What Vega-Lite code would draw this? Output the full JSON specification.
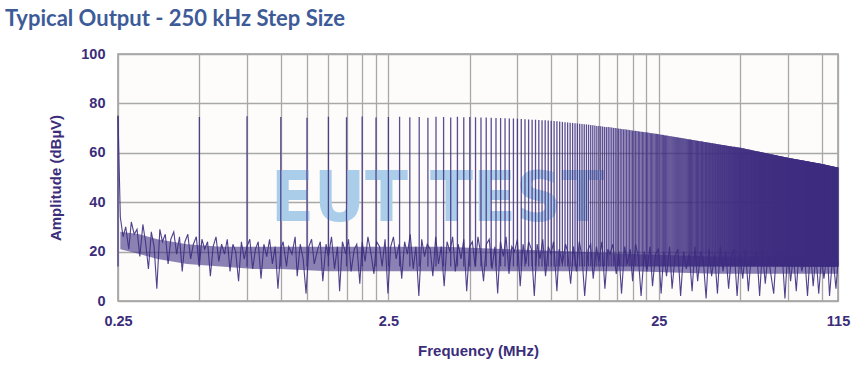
{
  "$schema": "https://vega.github.io/schema/vega-lite/v6.json",
  "width": 720,
  "height": 247,
  "autosize": {"type": "none"},
  "padding": {"left": 118, "top": 54, "right": 28, "bottom": 75},
  "background": "#ffffff",
  "title": {
    "text": "Typical Output - 250 kHz Step Size",
    "anchor": "start",
    "frame": "group",
    "dx": -113,
    "dy": 30,
    "offset": 28,
    "baseline": "alphabetic",
    "font": "Liberation Sans Narrow, Lato, sans-serif",
    "fontSize": 22,
    "fontWeight": "bold",
    "color": "#3d5b98"
  },
  "config": {
    "view": {"stroke": "#9b9b9b", "strokeWidth": 1.5, "fill": "#fdfcfa"},
    "axis": {
      "labelFont": "Liberation Sans, Arial, sans-serif",
      "titleFont": "Liberation Sans, Arial, sans-serif",
      "labelFontWeight": "bold",
      "titleFontWeight": "bold",
      "labelColor": "#3b2d7a",
      "titleColor": "#3b2d7a",
      "labelFontSize": 14.5,
      "titleFontSize": 15,
      "ticks": false,
      "domain": false,
      "grid": true,
      "gridColor": "#a8a8a8",
      "gridWidth": 1.3,
      "gridOpacity": 1
    }
  },
  "datasets": {
    "spk": [
      {"f":0.25,"a":75},{"f":0.5,"a":74.5},{"f":0.75,"a":74.8},{"f":1,"a":74.5},{"f":1.25,"a":74.2},{"f":1.5,"a":74.6},{"f":1.75,"a":74.4},{"f":2,"a":74.7},{"f":2.25,"a":74.3},{"f":2.5,"a":74.5},
      {"f":2.75,"a":74.6},{"f":3,"a":74.4},{"f":3.25,"a":74.5},{"f":3.5,"a":74.2},{"f":3.75,"a":74.6},{"f":4,"a":74.5},{"f":4.25,"a":74.3},{"f":4.5,"a":74.6},{"f":4.75,"a":74.4},{"f":5,"a":74.5},
      {"f":5.25,"a":74.4},{"f":5.5,"a":74.3},{"f":5.75,"a":74.3},{"f":6,"a":74.2},{"f":6.25,"a":74.1},{"f":6.5,"a":74.1},{"f":6.75,"a":74.0},{"f":7,"a":73.9},{"f":7.25,"a":73.9},{"f":7.5,"a":73.8},
      {"f":7.75,"a":73.7},{"f":8,"a":73.6},{"f":8.25,"a":73.5},{"f":8.5,"a":73.4},{"f":8.75,"a":73.4},{"f":9,"a":73.3},{"f":9.25,"a":73.2},{"f":9.5,"a":73.2},{"f":9.75,"a":73.1},{"f":10,"a":73.0},
      {"f":10.25,"a":72.9},{"f":10.5,"a":72.8},{"f":10.75,"a":72.7},{"f":11,"a":72.5},{"f":11.25,"a":72.4},{"f":11.5,"a":72.3},{"f":11.75,"a":72.2},{"f":12,"a":72.1},{"f":12.25,"a":72.0},{"f":12.5,"a":71.9},
      {"f":12.75,"a":71.8},{"f":13,"a":71.7},{"f":13.25,"a":71.6},{"f":13.5,"a":71.5},{"f":13.75,"a":71.4},{"f":14,"a":71.3},{"f":14.25,"a":71.2},{"f":14.5,"a":71.1},{"f":14.75,"a":70.9},{"f":15,"a":70.8},
      {"f":15.25,"a":70.7},{"f":15.5,"a":70.6},{"f":15.75,"a":70.5},{"f":16,"a":70.4},{"f":16.25,"a":70.4},{"f":16.5,"a":70.3},{"f":16.75,"a":70.2},{"f":17,"a":70.1},{"f":17.25,"a":70.0},{"f":17.5,"a":69.9},
      {"f":17.75,"a":69.8},{"f":18,"a":69.7},{"f":18.25,"a":69.6},{"f":18.5,"a":69.5},{"f":18.75,"a":69.5},{"f":19,"a":69.4},{"f":19.25,"a":69.3},{"f":19.5,"a":69.2},{"f":19.75,"a":69.1},{"f":20,"a":69.0},
      {"f":20.25,"a":68.9},{"f":20.5,"a":68.9},{"f":20.75,"a":68.8},{"f":21,"a":68.7},{"f":21.25,"a":68.6},{"f":21.5,"a":68.5},{"f":21.75,"a":68.5},{"f":22,"a":68.4},{"f":22.25,"a":68.3},{"f":22.5,"a":68.3},
      {"f":22.75,"a":68.2},{"f":23,"a":68.1},{"f":23.25,"a":68.0},{"f":23.5,"a":67.9},{"f":23.75,"a":67.9},{"f":24,"a":67.8},{"f":24.25,"a":67.7},{"f":24.5,"a":67.7},{"f":24.75,"a":67.6},{"f":25,"a":67.5},
      {"f":25.25,"a":67.4},{"f":25.5,"a":67.3},{"f":25.75,"a":67.3},{"f":26,"a":67.2},{"f":26.25,"a":67.1},{"f":26.5,"a":67.0},{"f":26.75,"a":67.0},{"f":27,"a":66.9},{"f":27.25,"a":66.8},{"f":27.5,"a":66.7},
      {"f":27.75,"a":66.7},{"f":28,"a":66.6},{"f":28.25,"a":66.5},{"f":28.5,"a":66.5},{"f":28.75,"a":66.4},{"f":29,"a":66.3},{"f":29.25,"a":66.3},{"f":29.5,"a":66.2},{"f":29.75,"a":66.1},{"f":30,"a":66.1},
      {"f":30.25,"a":66.0},{"f":30.5,"a":65.9},{"f":30.75,"a":65.9},{"f":31,"a":65.8},{"f":31.25,"a":65.7},{"f":31.5,"a":65.7},{"f":31.75,"a":65.6},{"f":32,"a":65.5},{"f":32.25,"a":65.5},{"f":32.5,"a":65.4},
      {"f":32.75,"a":65.4},{"f":33,"a":65.3},{"f":33.25,"a":65.2},{"f":33.5,"a":65.2},{"f":33.75,"a":65.1},{"f":34,"a":65.1},{"f":34.25,"a":65.0},{"f":34.5,"a":64.9},{"f":34.75,"a":64.9},{"f":35,"a":64.8},
      {"f":35.25,"a":64.8},{"f":35.5,"a":64.7},{"f":35.75,"a":64.7},{"f":36,"a":64.6},{"f":36.25,"a":64.6},{"f":36.5,"a":64.5},{"f":36.75,"a":64.4},{"f":37,"a":64.4},{"f":37.25,"a":64.3},{"f":37.5,"a":64.3},
      {"f":37.75,"a":64.2},{"f":38,"a":64.2},{"f":38.25,"a":64.1},{"f":38.5,"a":64.1},{"f":38.75,"a":64.0},{"f":39,"a":64.0},{"f":39.25,"a":63.9},{"f":39.5,"a":63.9},{"f":39.75,"a":63.8},{"f":40,"a":63.8},
      {"f":40.25,"a":63.7},{"f":40.5,"a":63.7},{"f":40.75,"a":63.6},{"f":41,"a":63.6},{"f":41.25,"a":63.5},{"f":41.5,"a":63.5},{"f":41.75,"a":63.4},{"f":42,"a":63.4},{"f":42.25,"a":63.3},{"f":42.5,"a":63.3},
      {"f":42.75,"a":63.2},{"f":43,"a":63.2},{"f":43.25,"a":63.2},{"f":43.5,"a":63.1},{"f":43.75,"a":63.1},{"f":44,"a":63.0},{"f":44.25,"a":63.0},{"f":44.5,"a":62.9},{"f":44.75,"a":62.9},{"f":45,"a":62.8},
      {"f":45.25,"a":62.8},{"f":45.5,"a":62.7},{"f":45.75,"a":62.7},{"f":46,"a":62.7},{"f":46.25,"a":62.6},{"f":46.5,"a":62.6},{"f":46.75,"a":62.5},{"f":47,"a":62.5},{"f":47.25,"a":62.4},{"f":47.5,"a":62.4},
      {"f":47.75,"a":62.4},{"f":48,"a":62.3},{"f":48.25,"a":62.3},{"f":48.5,"a":62.2},{"f":48.75,"a":62.2},{"f":49,"a":62.2},{"f":49.25,"a":62.1},{"f":49.5,"a":62.1},{"f":49.75,"a":62.0},{"f":50,"a":62.0},
      {"f":50.25,"a":62.0},{"f":50.5,"a":61.9},{"f":50.75,"a":61.9},{"f":51,"a":61.8},{"f":51.25,"a":61.8},{"f":51.5,"a":61.7},{"f":51.75,"a":61.7},{"f":52,"a":61.6},{"f":52.25,"a":61.6},{"f":52.5,"a":61.5},
      {"f":52.75,"a":61.5},{"f":53,"a":61.4},{"f":53.25,"a":61.4},{"f":53.5,"a":61.3},{"f":53.75,"a":61.3},{"f":54,"a":61.2},{"f":54.25,"a":61.2},{"f":54.5,"a":61.2},{"f":54.75,"a":61.1},{"f":55,"a":61.1},
      {"f":55.25,"a":61.0},{"f":55.5,"a":61.0},{"f":55.75,"a":60.9},{"f":56,"a":60.9},{"f":56.25,"a":60.8},{"f":56.5,"a":60.8},{"f":56.75,"a":60.7},{"f":57,"a":60.7},{"f":57.25,"a":60.7},{"f":57.5,"a":60.6},
      {"f":57.75,"a":60.6},{"f":58,"a":60.5},{"f":58.25,"a":60.5},{"f":58.5,"a":60.5},{"f":58.75,"a":60.4},{"f":59,"a":60.4},{"f":59.25,"a":60.3},{"f":59.5,"a":60.3},{"f":59.75,"a":60.2},{"f":60,"a":60.2},
      {"f":60.25,"a":60.2},{"f":60.5,"a":60.1},{"f":60.75,"a":60.1},{"f":61,"a":60.0},{"f":61.25,"a":60.0},{"f":61.5,"a":60.0},{"f":61.75,"a":59.9},{"f":62,"a":59.9},{"f":62.25,"a":59.8},{"f":62.5,"a":59.8},
      {"f":62.75,"a":59.8},{"f":63,"a":59.7},{"f":63.25,"a":59.7},{"f":63.5,"a":59.6},{"f":63.75,"a":59.6},{"f":64,"a":59.6},{"f":64.25,"a":59.5},{"f":64.5,"a":59.5},{"f":64.75,"a":59.4},{"f":65,"a":59.4},
      {"f":65.25,"a":59.4},{"f":65.5,"a":59.3},{"f":65.75,"a":59.3},{"f":66,"a":59.3},{"f":66.25,"a":59.2},{"f":66.5,"a":59.2},{"f":66.75,"a":59.1},{"f":67,"a":59.1},{"f":67.25,"a":59.1},{"f":67.5,"a":59.0},
      {"f":67.75,"a":59.0},{"f":68,"a":59.0},{"f":68.25,"a":58.9},{"f":68.5,"a":58.9},{"f":68.75,"a":58.8},{"f":69,"a":58.8},{"f":69.25,"a":58.8},{"f":69.5,"a":58.7},{"f":69.75,"a":58.7},{"f":70,"a":58.7},
      {"f":70.25,"a":58.6},{"f":70.5,"a":58.6},{"f":70.75,"a":58.6},{"f":71,"a":58.5},{"f":71.25,"a":58.5},{"f":71.5,"a":58.5},{"f":71.75,"a":58.4},{"f":72,"a":58.4},{"f":72.25,"a":58.4},{"f":72.5,"a":58.3},
      {"f":72.75,"a":58.3},{"f":73,"a":58.3},{"f":73.25,"a":58.2},{"f":73.5,"a":58.2},{"f":73.75,"a":58.2},{"f":74,"a":58.1},{"f":74.25,"a":58.1},{"f":74.5,"a":58.1},{"f":74.75,"a":58.0},{"f":75,"a":58.0},
      {"f":75.25,"a":58.0},{"f":75.5,"a":57.9},{"f":75.75,"a":57.9},{"f":76,"a":57.9},{"f":76.25,"a":57.9},{"f":76.5,"a":57.8},{"f":76.75,"a":57.8},{"f":77,"a":57.8},{"f":77.25,"a":57.7},{"f":77.5,"a":57.7},
      {"f":77.75,"a":57.7},{"f":78,"a":57.6},{"f":78.25,"a":57.6},{"f":78.5,"a":57.6},{"f":78.75,"a":57.6},{"f":79,"a":57.5},{"f":79.25,"a":57.5},{"f":79.5,"a":57.5},{"f":79.75,"a":57.5},{"f":80,"a":57.4},
      {"f":80.25,"a":57.4},{"f":80.5,"a":57.4},{"f":80.75,"a":57.3},{"f":81,"a":57.3},{"f":81.25,"a":57.3},{"f":81.5,"a":57.3},{"f":81.75,"a":57.2},{"f":82,"a":57.2},{"f":82.25,"a":57.2},{"f":82.5,"a":57.2},
      {"f":82.75,"a":57.1},{"f":83,"a":57.1},{"f":83.25,"a":57.1},{"f":83.5,"a":57.1},{"f":83.75,"a":57.0},{"f":84,"a":57.0},{"f":84.25,"a":57.0},{"f":84.5,"a":57.0},{"f":84.75,"a":56.9},{"f":85,"a":56.9},
      {"f":85.25,"a":56.9},{"f":85.5,"a":56.9},{"f":85.75,"a":56.8},{"f":86,"a":56.8},{"f":86.25,"a":56.8},{"f":86.5,"a":56.8},{"f":86.75,"a":56.7},{"f":87,"a":56.7},{"f":87.25,"a":56.7},{"f":87.5,"a":56.7},
      {"f":87.75,"a":56.6},{"f":88,"a":56.6},{"f":88.25,"a":56.6},{"f":88.5,"a":56.6},{"f":88.75,"a":56.5},{"f":89,"a":56.5},{"f":89.25,"a":56.5},{"f":89.5,"a":56.5},{"f":89.75,"a":56.4},{"f":90,"a":56.4},
      {"f":90.25,"a":56.4},{"f":90.5,"a":56.4},{"f":90.75,"a":56.3},{"f":91,"a":56.3},{"f":91.25,"a":56.3},{"f":91.5,"a":56.3},{"f":91.75,"a":56.2},{"f":92,"a":56.2},{"f":92.25,"a":56.2},{"f":92.5,"a":56.2},
      {"f":92.75,"a":56.1},{"f":93,"a":56.1},{"f":93.25,"a":56.1},{"f":93.5,"a":56.1},{"f":93.75,"a":56.0},{"f":94,"a":56.0},{"f":94.25,"a":56.0},{"f":94.5,"a":56.0},{"f":94.75,"a":56.0},{"f":95,"a":55.9},
      {"f":95.25,"a":55.9},{"f":95.5,"a":55.9},{"f":95.75,"a":55.9},{"f":96,"a":55.8},{"f":96.25,"a":55.8},{"f":96.5,"a":55.8},{"f":96.75,"a":55.8},{"f":97,"a":55.8},{"f":97.25,"a":55.7},{"f":97.5,"a":55.7},
      {"f":97.75,"a":55.7},{"f":98,"a":55.7},{"f":98.25,"a":55.6},{"f":98.5,"a":55.6},{"f":98.75,"a":55.6},{"f":99,"a":55.6},{"f":99.25,"a":55.6},{"f":99.5,"a":55.5},{"f":99.75,"a":55.5},{"f":100,"a":55.5},
      {"f":100.25,"a":55.5},{"f":100.5,"a":55.4},{"f":100.75,"a":55.4},{"f":101,"a":55.4},{"f":101.25,"a":55.4},{"f":101.5,"a":55.3},{"f":101.75,"a":55.3},{"f":102,"a":55.3},{"f":102.25,"a":55.3},{"f":102.5,"a":55.2},
      {"f":102.75,"a":55.2},{"f":103,"a":55.2},{"f":103.25,"a":55.2},{"f":103.5,"a":55.1},{"f":103.75,"a":55.1},{"f":104,"a":55.1},{"f":104.25,"a":55.1},{"f":104.5,"a":55.0},{"f":104.75,"a":55.0},{"f":105,"a":55.0},
      {"f":105.25,"a":54.9},{"f":105.5,"a":54.9},{"f":105.75,"a":54.9},{"f":106,"a":54.9},{"f":106.25,"a":54.8},{"f":106.5,"a":54.8},{"f":106.75,"a":54.8},{"f":107,"a":54.8},{"f":107.25,"a":54.7},{"f":107.5,"a":54.7},
      {"f":107.75,"a":54.7},{"f":108,"a":54.7},{"f":108.25,"a":54.6},{"f":108.5,"a":54.6},{"f":108.75,"a":54.6},{"f":109,"a":54.6},{"f":109.25,"a":54.5},{"f":109.5,"a":54.5},{"f":109.75,"a":54.5},{"f":110,"a":54.5},
      {"f":110.25,"a":54.5},{"f":110.5,"a":54.4},{"f":110.75,"a":54.4},{"f":111,"a":54.4},{"f":111.25,"a":54.4},{"f":111.5,"a":54.3},{"f":111.75,"a":54.3},{"f":112,"a":54.3},{"f":112.25,"a":54.3},{"f":112.5,"a":54.2},
      {"f":112.75,"a":54.2},{"f":113,"a":54.2},{"f":113.25,"a":54.2},{"f":113.5,"a":54.1},{"f":113.75,"a":54.1},{"f":114,"a":54.1},{"f":114.25,"a":54.1},{"f":114.5,"a":54.0},{"f":114.75,"a":54.0},{"f":115,"a":54.0}
    ],
    "noi": [
      {"f":0.25,"v":75},{"f":0.255,"v":34},{"f":0.261,"v":26},{"f":0.267,"v":30},{"f":0.274,"v":21},{"f":0.28,"v":32},{"f":0.287,"v":27},{"f":0.294,"v":29},{"f":0.301,"v":18},{"f":0.309,"v":31},
      {"f":0.316,"v":24},{"f":0.324,"v":13},{"f":0.332,"v":28},{"f":0.34,"v":22},{"f":0.348,"v":5},{"f":0.357,"v":29},{"f":0.365,"v":24},{"f":0.374,"v":27},{"f":0.383,"v":15},{"f":0.392,"v":25},
      {"f":0.402,"v":28},{"f":0.412,"v":19},{"f":0.422,"v":26},{"f":0.432,"v":12},{"f":0.442,"v":24},{"f":0.453,"v":27},{"f":0.464,"v":17},{"f":0.475,"v":23},{"f":0.487,"v":26},{"f":0.499,"v":14},
      {"f":0.511,"v":25},{"f":0.523,"v":21},{"f":0.536,"v":24},{"f":0.549,"v":10},{"f":0.562,"v":22},{"f":0.576,"v":26},{"f":0.59,"v":16},{"f":0.604,"v":23},{"f":0.619,"v":19},{"f":0.634,"v":25},
      {"f":0.649,"v":12},{"f":0.665,"v":23},{"f":0.681,"v":20},{"f":0.698,"v":8},{"f":0.715,"v":24},{"f":0.732,"v":17},{"f":0.75,"v":22},{"f":0.768,"v":25},{"f":0.787,"v":13},{"f":0.806,"v":21},
      {"f":0.825,"v":24},{"f":0.845,"v":9},{"f":0.866,"v":23},{"f":0.887,"v":18},{"f":0.909,"v":25},{"f":0.931,"v":15},{"f":0.953,"v":22},{"f":0.976,"v":5},
      {"f":1,"v":21},{"f":1.02,"v":24},{"f":1.05,"v":14},{"f":1.07,"v":22},{"f":1.1,"v":19},{"f":1.13,"v":26},{"f":1.15,"v":10},{"f":1.18,"v":23},{"f":1.21,"v":17},{"f":1.24,"v":3},
      {"f":1.27,"v":22},{"f":1.3,"v":25},{"f":1.33,"v":15},{"f":1.37,"v":21},{"f":1.4,"v":24},{"f":1.43,"v":8},{"f":1.47,"v":23},{"f":1.5,"v":18},{"f":1.54,"v":26},{"f":1.58,"v":13},
      {"f":1.62,"v":22},{"f":1.65,"v":4},{"f":1.69,"v":24},{"f":1.74,"v":19},{"f":1.78,"v":25},{"f":1.82,"v":12},{"f":1.87,"v":21},{"f":1.91,"v":23},{"f":1.96,"v":7},{"f":2,"v":24},
      {"f":2.05,"v":16},{"f":2.1,"v":26},{"f":2.15,"v":20},{"f":2.21,"v":11},{"f":2.26,"v":24},{"f":2.32,"v":22},{"f":2.37,"v":14},{"f":2.43,"v":25},{"f":2.49,"v":3},{"f":2.55,"v":22},
      {"f":2.61,"v":26},{"f":2.67,"v":17},{"f":2.74,"v":23},{"f":2.8,"v":9},{"f":2.87,"v":24},{"f":2.94,"v":19},{"f":3.01,"v":27},{"f":3.09,"v":13},{"f":3.16,"v":22},{"f":3.24,"v":2},
      {"f":3.32,"v":25},{"f":3.4,"v":18},{"f":3.48,"v":23},{"f":3.57,"v":21},{"f":3.65,"v":10},{"f":3.74,"v":26},{"f":3.83,"v":15},{"f":3.92,"v":22},{"f":4.02,"v":6},{"f":4.12,"v":24},
      {"f":4.22,"v":20},{"f":4.32,"v":26},{"f":4.42,"v":12},{"f":4.53,"v":23},{"f":4.64,"v":17},{"f":4.75,"v":25},{"f":4.87,"v":4},{"f":4.99,"v":22},{"f":5.11,"v":24},{"f":5.23,"v":14},
      {"f":5.36,"v":26},{"f":5.49,"v":19},{"f":5.62,"v":8},{"f":5.76,"v":23},{"f":5.9,"v":25},{"f":6.04,"v":13},{"f":6.19,"v":22},{"f":6.34,"v":3},{"f":6.49,"v":24},{"f":6.65,"v":18},
      {"f":6.81,"v":26},{"f":6.98,"v":11},{"f":7.15,"v":22},{"f":7.32,"v":20},{"f":7.5,"v":25},{"f":7.68,"v":6},{"f":7.87,"v":23},{"f":8.06,"v":15},{"f":8.25,"v":24},{"f":8.45,"v":21},
      {"f":8.66,"v":2},{"f":8.87,"v":23},{"f":9.09,"v":17},{"f":9.31,"v":25},{"f":9.53,"v":10},{"f":9.76,"v":22},
      {"f":10,"v":19},{"f":10.2,"v":24},{"f":10.5,"v":4},{"f":10.7,"v":21},{"f":11,"v":15},{"f":11.3,"v":23},{"f":11.5,"v":20},{"f":11.8,"v":7},{"f":12.1,"v":22},{"f":12.4,"v":12},
      {"f":12.7,"v":24},{"f":13,"v":18},{"f":13.3,"v":2},{"f":13.7,"v":21},{"f":14,"v":23},{"f":14.3,"v":9},{"f":14.7,"v":22},{"f":15,"v":16},{"f":15.4,"v":24},{"f":15.8,"v":5},
      {"f":16.2,"v":21},{"f":16.5,"v":19},{"f":16.9,"v":23},{"f":17.4,"v":11},{"f":17.8,"v":20},{"f":18.2,"v":3},{"f":18.7,"v":22},{"f":19.1,"v":15},{"f":19.6,"v":21},{"f":20,"v":8},
      {"f":20.5,"v":23},{"f":21,"v":18},{"f":21.5,"v":2},{"f":22.1,"v":20},{"f":22.6,"v":12},{"f":23.2,"v":22},{"f":23.7,"v":6},{"f":24.3,"v":19},{"f":24.9,"v":21},{"f":25.5,"v":3},
      {"f":26.1,"v":20},{"f":26.7,"v":10},{"f":27.4,"v":22},{"f":28,"v":5},{"f":28.7,"v":18},{"f":29.4,"v":21},{"f":30.1,"v":2},{"f":30.9,"v":20},{"f":31.6,"v":13},{"f":32.4,"v":19},
      {"f":33.2,"v":4},{"f":34,"v":22},{"f":34.8,"v":8},{"f":35.7,"v":20},{"f":36.5,"v":17},{"f":37.4,"v":1},{"f":38.3,"v":21},{"f":39.2,"v":10},{"f":40.2,"v":19},{"f":41.2,"v":3},
      {"f":42.2,"v":22},{"f":43.2,"v":12},{"f":44.2,"v":20},{"f":45.3,"v":5},{"f":46.4,"v":18},{"f":47.5,"v":21},{"f":48.7,"v":2},{"f":49.9,"v":19},{"f":51.1,"v":9},{"f":52.3,"v":21},
      {"f":53.6,"v":4},{"f":54.9,"v":18},{"f":56.2,"v":14},{"f":57.6,"v":20},{"f":59,"v":2},{"f":60.4,"v":21},{"f":61.9,"v":7},{"f":63.4,"v":19},{"f":64.9,"v":11},{"f":66.5,"v":3},
      {"f":68.1,"v":20},{"f":69.8,"v":16},{"f":71.5,"v":19},{"f":73.2,"v":1},{"f":75,"v":21},{"f":76.8,"v":8},{"f":78.7,"v":19},{"f":80.6,"v":4},{"f":82.5,"v":20},{"f":84.5,"v":12},
      {"f":86.6,"v":18},{"f":88.7,"v":2},{"f":90.9,"v":21},{"f":93.1,"v":6},{"f":95.3,"v":19},{"f":97.6,"v":3},
      {"f":100,"v":18},{"f":102,"v":9},{"f":105,"v":20},{"f":107,"v":2},{"f":110,"v":19},{"f":113,"v":5},{"f":115,"v":16}
    ],
    "band": [
      {"f":0.255,"lo":21,"hi":28},{"f":0.3,"lo":19,"hi":27},{"f":0.35,"lo":17,"hi":25},{"f":0.45,"lo":15,"hi":23},{"f":0.6,"lo":14,"hi":22},
      {"f":0.8,"lo":13,"hi":22},{"f":1,"lo":13,"hi":22},{"f":1.5,"lo":12,"hi":22},{"f":2.5,"lo":12,"hi":22},{"f":4,"lo":12,"hi":22},
      {"f":7,"lo":12,"hi":21},{"f":12,"lo":12,"hi":20},{"f":20,"lo":12,"hi":19},{"f":40,"lo":11,"hi":18},{"f":115,"lo":11,"hi":18}
    ]
  },
  "layer": [
    {
      "data": {"values": [{"t": "EUT TEST"}]},
      "mark": {"type": "text", "align": "center", "baseline": "alphabetic", "font": "DejaVu Sans Condensed, sans-serif", "fontWeight": "bold", "fontSize": 70, "color": "#aacde9"},
      "encoding": {
        "x": {"datum": 3.8, "type": "quantitative", "scale": {"type": "log", "domain": [0.25, 115], "nice": false},
          "axis": {"title": "Frequency (MHz)", "grid": true, "values": [0.25,0.5,0.75,1,1.25,1.5,1.75,2,2.25,2.5,5,7.5,10,12.5,15,17.5,20,22.5,25,50,75,100,115],
            "labelExpr": "datum.value == 0.25 || datum.value == 2.5 || datum.value == 25 || datum.value == 115 ? format(datum.value, '~g') : ''",
            "labelFlush": false, "labelOverlap": false, "labelPadding": 13, "titlePadding": 16}},
        "y": {"datum": 32.4, "type": "quantitative", "scale": {"domain": [0, 100], "nice": false},
          "axis": {"title": "Amplitude (dBµV)", "grid": true, "values": [0,10,20,30,40,50,60,70,80,90,100],
            "labelExpr": "datum.value % 20 == 0 ? datum.label : ''", "labelPadding": 13, "titlePadding": 17}},
        "text": {"field": "t"}
      }
    },
    {
      "data": {"name": "band"},
      "mark": {"type": "area", "color": "#3f2e82", "opacity": 0.6},
      "encoding": {
        "x": {"field": "f", "type": "quantitative"},
        "y": {"field": "lo", "type": "quantitative"},
        "y2": {"field": "hi"}
      }
    },
    {
      "data": {"name": "spk"},
      "mark": {"type": "rule", "color": "#3e2d80", "strokeWidth": 1.3, "opacity": 0.85},
      "encoding": {
        "x": {"field": "f", "type": "quantitative"},
        "y": {"field": "a", "type": "quantitative"},
        "y2": {"datum": 14}
      }
    },
    {
      "data": {"name": "noi"},
      "mark": {"type": "line", "color": "#3d2c80", "strokeWidth": 1.1, "opacity": 0.9},
      "encoding": {
        "x": {"field": "f", "type": "quantitative"},
        "y": {"field": "v", "type": "quantitative"}
      }
    }
  ]
}
